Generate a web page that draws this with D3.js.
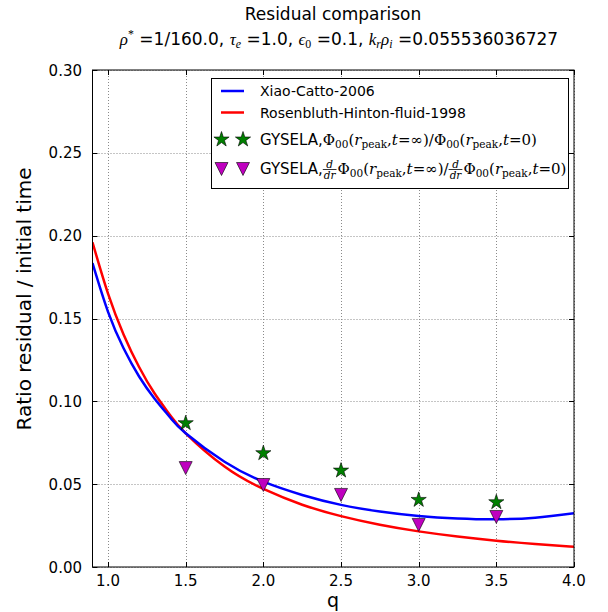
<!DOCTYPE html>
<html lang="en">
<head>
<meta charset="UTF-8">
<title>Residual comparison</title>
<script src="https://d3js.org/d3.v7.min.js"></script>
<style>
  body { margin: 0; background: #fff; }
  svg { font-family: "DejaVu Sans", sans-serif; }
  svg text { fill: #000; }
</style>
</head>
<body>
<svg id="chart" width="608" height="612"></svg>
<script>
// theory curves, values at these q
const qSamples = [0.9, 1.0, 1.1, 1.2, 1.3, 1.4, 1.5, 1.75, 2.0, 2.25, 2.5, 2.75, 3.0, 3.25, 3.5, 3.75, 4.0];
const xiaoCatto = [0.1834, 0.154, 0.132, 0.115, 0.1016, 0.0902, 0.0807, 0.0635, 0.0515, 0.0435, 0.0375, 0.0335, 0.0308, 0.0293, 0.0288, 0.0298, 0.0324];
const rosenbluthHinton = [0.196, 0.165, 0.1404, 0.1207, 0.1047, 0.0916, 0.0807, 0.0606, 0.0471, 0.0376, 0.0307, 0.0255, 0.0215, 0.0184, 0.0159, 0.0139, 0.0122];

// GYSELA runs
const gyselaQ = [1.5, 2.0, 2.5, 3.0, 3.5];
const gyselaPhi = [0.0868, 0.0687, 0.0582, 0.0405, 0.0391];
const gyselaDPhi = [0.0597, 0.0495, 0.0435, 0.0254, 0.0302];

const xTicks = [1.0, 1.5, 2.0, 2.5, 3.0, 3.5, 4.0];
const yTicks = [0.00, 0.05, 0.10, 0.15, 0.20, 0.25, 0.30];

const SERIF = '"Liberation Serif", "DejaVu Serif", serif';
const WIDESERIF = '"DejaVu Serif", serif';
const SANS = '"DejaVu Sans", sans-serif';

const svg = d3.select('#chart');
const pLeft = 92.5, pRight = 574, pTop = 70, pBottom = 567;

const x = d3.scaleLinear().domain([0.9, 4.0]).range([pLeft, pRight]);
const y = d3.scaleLinear().domain([0, 0.30]).range([pBottom, pTop]);

svg.append('defs').append('clipPath').attr('id', 'plotclip')
  .append('rect').attr('x', pLeft).attr('y', pTop)
  .attr('width', pRight - pLeft).attr('height', pBottom - pTop);

// grid
const grid = svg.append('g').attr('stroke', '#8a8a8a').attr('stroke-width', 1).attr('stroke-dasharray', '1,2');
xTicks.forEach(t => grid.append('line')
  .attr('x1', Math.round(x(t)) + 0.5).attr('x2', Math.round(x(t)) + 0.5)
  .attr('y1', pTop).attr('y2', pBottom));
yTicks.forEach(t => grid.append('line')
  .attr('x1', pLeft).attr('x2', pRight)
  .attr('y1', Math.round(y(t)) + 0.5).attr('y2', Math.round(y(t)) + 0.5));

// curves
const plot = svg.append('g').attr('clip-path', 'url(#plotclip)');
const line = d3.line().x(d => x(d[0])).y(d => y(d[1])).curve(d3.curveNatural);

plot.append('path')
  .attr('d', line(qSamples.map((q, i) => [q, rosenbluthHinton[i]])))
  .attr('fill', 'none').attr('stroke', '#ff0000').attr('stroke-width', 2.5);
plot.append('path')
  .attr('d', line(qSamples.map((q, i) => [q, xiaoCatto[i]])))
  .attr('fill', 'none').attr('stroke', '#0000ff').attr('stroke-width', 2.5);

// marker shapes
function starPath(r) {
  const pts = [];
  for (let i = 0; i < 10; i++) {
    const a = -Math.PI / 2 + i * Math.PI / 5;
    const rr = i % 2 ? r * 0.382 : r;
    pts.push([rr * Math.cos(a), rr * Math.sin(a)]);
  }
  return 'M' + pts.map(p => p.join(',')).join('L') + 'Z';
}
function triPath(h) {
  return `M${-h},${-h}L${h},${-h}L0,${h}Z`;
}
const STAR = starPath(8);
const TRI = triPath(6.5);

plot.selectAll('.star').data(gyselaQ).enter().append('path')
  .attr('class', 'star')
  .attr('d', STAR)
  .attr('transform', (d, i) => `translate(${x(d)},${y(gyselaPhi[i])})`)
  .attr('fill', '#008000').attr('stroke', '#000').attr('stroke-width', 0.6);

plot.selectAll('.tri').data(gyselaQ).enter().append('path')
  .attr('class', 'tri')
  .attr('d', TRI)
  .attr('transform', (d, i) => `translate(${x(d)},${y(gyselaDPhi[i])})`)
  .attr('fill', '#bf00bf').attr('stroke', '#000').attr('stroke-width', 0.6);

// frame and ticks (inside, all four sides)
svg.append('rect').attr('x', pLeft).attr('y', pTop)
  .attr('width', pRight - pLeft).attr('height', pBottom - pTop)
  .attr('fill', 'none').attr('stroke', '#000').attr('stroke-width', 1);

const tl = 5;
const ticks = svg.append('g').attr('stroke', '#000').attr('stroke-width', 1);
xTicks.forEach(t => {
  const xx = Math.round(x(t)) + 0.5;
  ticks.append('line').attr('x1', xx).attr('x2', xx).attr('y1', pBottom).attr('y2', pBottom - tl);
  ticks.append('line').attr('x1', xx).attr('x2', xx).attr('y1', pTop).attr('y2', pTop + tl);
});
yTicks.forEach(t => {
  const yy = Math.round(y(t)) + 0.5;
  ticks.append('line').attr('x1', pLeft).attr('x2', pLeft + tl).attr('y1', yy).attr('y2', yy);
  ticks.append('line').attr('x1', pRight).attr('x2', pRight - tl).attr('y1', yy).attr('y2', yy);
});

svg.append('g').selectAll('text').data(xTicks).enter().append('text')
  .attr('x', d => x(d)).attr('y', 585.5)
  .attr('text-anchor', 'middle').attr('font-size', 15)
  .text(d => d.toFixed(1));
svg.append('g').selectAll('text').data(yTicks).enter().append('text')
  .attr('x', 82).attr('y', d => y(d) + 5.5)
  .attr('text-anchor', 'end').attr('font-size', 15)
  .text(d => d.toFixed(2));

// axis labels
svg.append('text').attr('x', 333).attr('y', 607)
  .attr('text-anchor', 'middle').attr('font-size', 19).text('q');
svg.append('text').attr('transform', 'translate(31,299) rotate(-90)')
  .attr('text-anchor', 'middle').attr('font-size', 20).text('Ratio residual / initial time');

// little mathtext-like layout: parts are [text, kind]
function mathRow(parent, x0, y0, parts, size, serif) {
  const g = parent.append('g');
  let cx = x0;
  parts.forEach(p => {
    if (p.frac) {
      const fs = size * 0.7;
      const n = g.append('text').attr('y', y0 - size * 0.42).attr('font-size', fs)
        .style('font-family', serif).style('font-style', 'italic').text(p.frac[0]);
      const dd = g.append('text').attr('y', y0 + size * 0.32).attr('font-size', fs)
        .style('font-family', serif).style('font-style', 'italic').text(p.frac[1]);
      const w = Math.max(n.node().getComputedTextLength(), dd.node().getComputedTextLength()) + 2;
      n.attr('x', cx + w / 2).attr('text-anchor', 'middle');
      dd.attr('x', cx + w / 2).attr('text-anchor', 'middle');
      g.append('line').attr('x1', cx).attr('x2', cx + w)
        .attr('y1', y0 - size * 0.3).attr('y2', y0 - size * 0.3)
        .attr('stroke', '#000').attr('stroke-width', 0.8);
      cx += w + 1;
      return;
    }
    const [txt, kind] = p;
    let fs = size, fam = serif, st = 'normal', dy = 0;
    if (kind === 'rm') fam = SANS;
    if (kind === 'mi') st = 'italic';
    if (kind === 'sub') { fs = size * 0.7; dy = size * 0.22; }
    if (kind === 'subi') { fs = size * 0.7; dy = size * 0.22; st = 'italic'; }
    if (kind === 'sup') { fs = size * 0.7; dy = -size * 0.4; }
    const t = g.append('text').attr('x', cx).attr('y', y0 + dy)
      .attr('font-size', fs).style('font-family', fam).style('font-style', st)
      .style('white-space', 'pre').text(txt);
    cx += t.node().getComputedTextLength();
  });
  return { g, width: cx - x0 };
}

// title
svg.append('text').attr('x', 333).attr('y', 19.5)
  .attr('text-anchor', 'middle').attr('font-size', 17).text('Residual comparison');
const sub = mathRow(svg, 0, 44.5, [
  ['ρ', 'mi'], ['*', 'sup'], [' =1/160.0, ', 'rm'],
  ['τ', 'mi'], ['e', 'subi'], [' =1.0, ', 'rm'],
  ['ϵ', 'mi'], ['0', 'sub'], [' =0.1, ', 'rm'],
  ['k', 'mi'], ['r', 'subi'], ['ρ', 'mi'], ['i', 'subi'], [' =0.055536036727', 'rm']
], 17, SERIF);
sub.g.attr('transform', `translate(${339 - sub.width / 2},0)`);

// legend
const lg = svg.append('g');
lg.append('rect').attr('x', 211.5).attr('y', 78.5).attr('width', 357).attr('height', 110)
  .attr('fill', '#fff').attr('stroke', '#000').attr('stroke-width', 1);
lg.append('line').attr('x1', 221).attr('x2', 244).attr('y1', 91).attr('y2', 91)
  .attr('stroke', '#0000ff').attr('stroke-width', 2.5);
lg.append('line').attr('x1', 221).attr('x2', 244).attr('y1', 112.5).attr('y2', 112.5)
  .attr('stroke', '#ff0000').attr('stroke-width', 2.5);
[221.5, 243].forEach(px => {
  lg.append('path').attr('d', STAR).attr('transform', `translate(${px},139.5)`)
    .attr('fill', '#008000').attr('stroke', '#000').attr('stroke-width', 0.6);
  lg.append('path').attr('d', TRI).attr('transform', `translate(${px},169)`)
    .attr('fill', '#bf00bf').attr('stroke', '#000').attr('stroke-width', 0.6);
});
lg.append('text').attr('x', 260).attr('y', 96).attr('font-size', 14).text('Xiao-Catto-2006');
lg.append('text').attr('x', 260).attr('y', 117.5).attr('font-size', 14).text('Rosenbluth-Hinton-fluid-1998');

const phiArgs = (tval) => [
  ['Φ', 'mr'], ['00', 'sub'], ['(', 'mr'], ['r', 'mi'], ['peak', 'sub'], [',', 'mr'],
  ['t', 'mi'], ['=', 'mr'], [tval, 'mr'], [')', 'mr']
];
mathRow(lg, 260, 144.5, [['GYSELA,', 'rm'], ...phiArgs('∞'), ['/', 'mr'], ...phiArgs('0')], 15, WIDESERIF);
mathRow(lg, 260, 174, [['GYSELA,', 'rm'], { frac: ['d', 'dr'] }, ...phiArgs('∞'), ['/', 'mr'],
  { frac: ['d', 'dr'] }, ...phiArgs('0')], 15, WIDESERIF);
</script>
</body>
</html>
